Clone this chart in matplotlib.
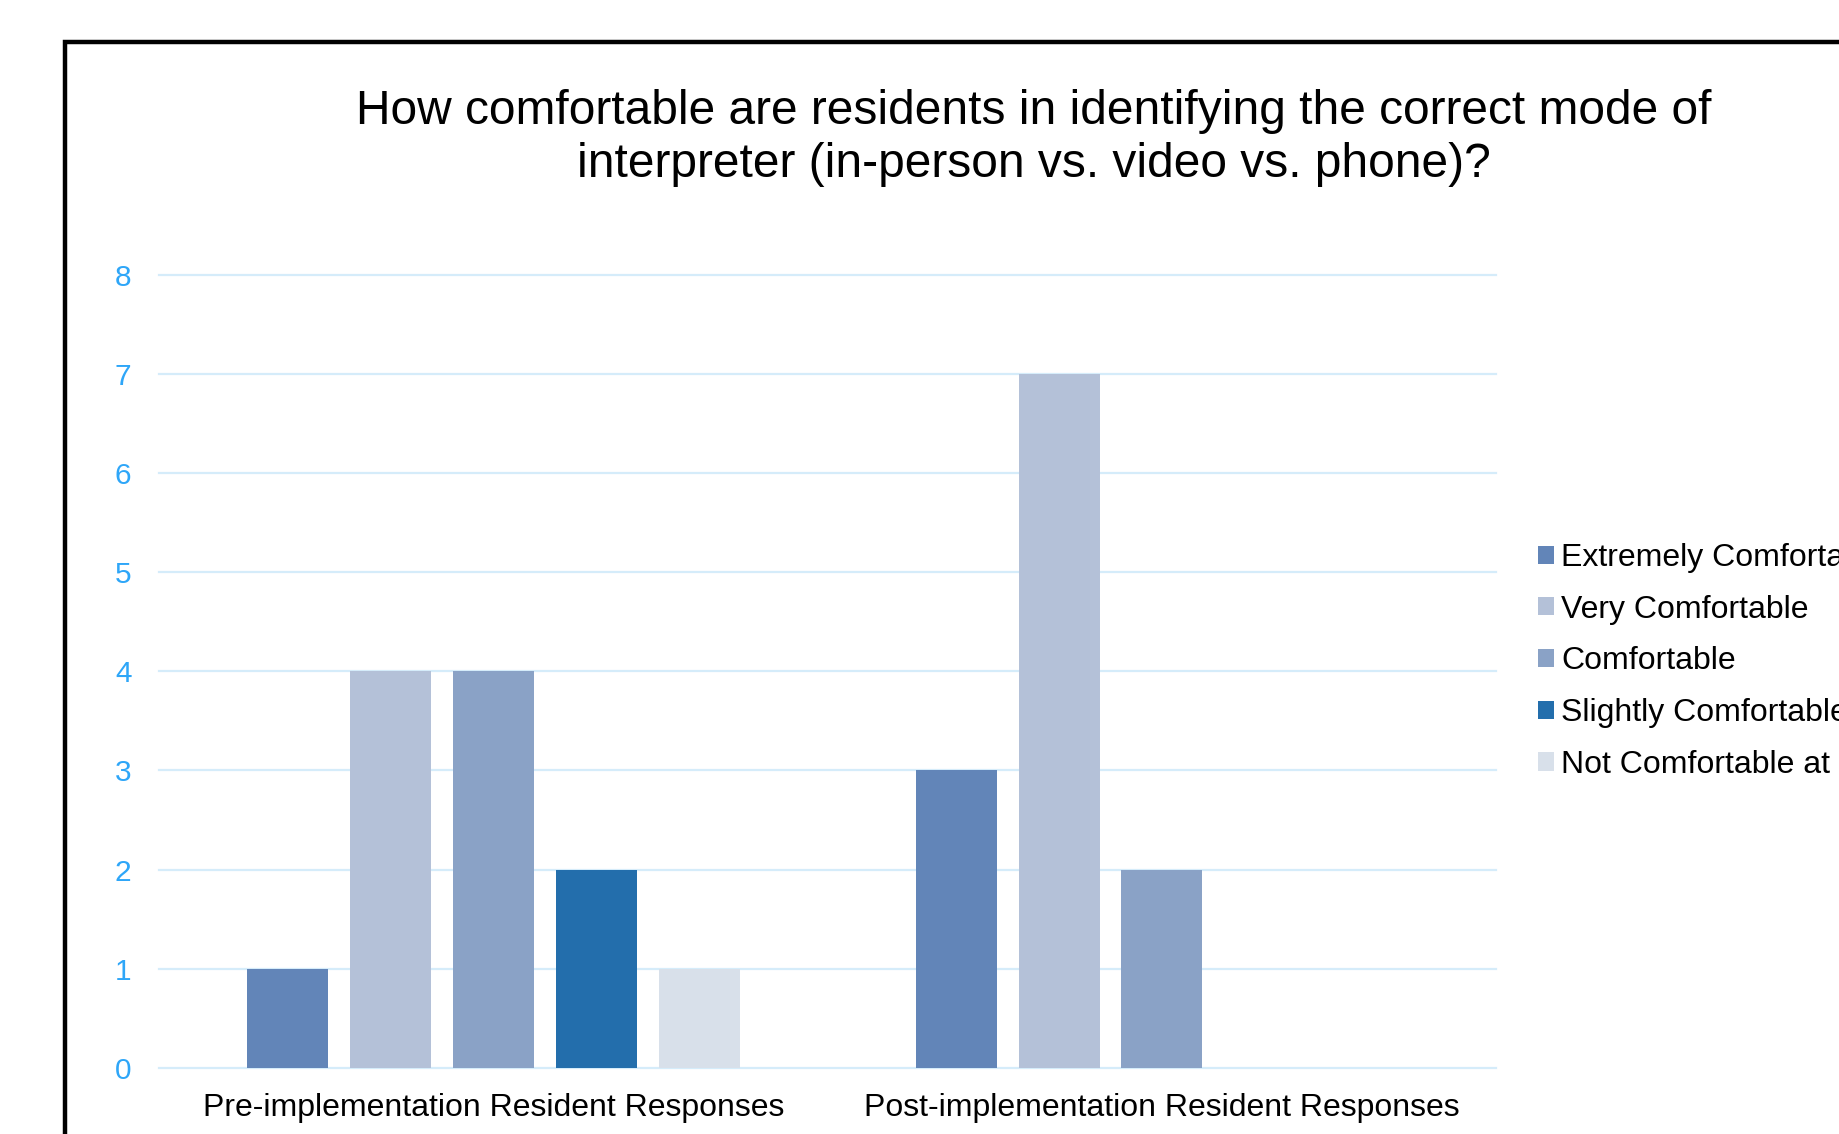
import numpy as np
import matplotlib.pyplot as plt
from matplotlib.patches import Rectangle

plt.rcParams['font.family'] = ['Liberation Sans', 'DejaVu Sans']

groups = ['Pre-implementation Resident Responses', 'Post-implementation Resident Responses']
levels = ['Extremely Comfortable', 'Very Comfortable', 'Comfortable',
          'Slightly Comfortable', 'Not Comfortable at all']
counts = {
    'Extremely Comfortable': [1, 3],
    'Very Comfortable': [4, 7],
    'Comfortable': [4, 2],
    'Slightly Comfortable': [2, 0],
    'Not Comfortable at all': [1, 0],
}
colors = ['#6285B8', '#B4C1D8', '#8AA2C6', '#236EAC', '#D8E0EA']
y_ticks = [0, 1, 2, 3, 4, 5, 6, 7, 8]

W, H = 1839, 1134
fig = plt.figure(figsize=(W / 100, H / 100), dpi=100)

# thick frame around the chart area, running off the right/bottom edges
fig.patches.append(Rectangle((65 / W, -0.1), 2, 1.1 - 42 / H, transform=fig.transFigure,
                             fill=False, edgecolor='black', linewidth=3.2))

ax = fig.add_axes([159.3 / W, 66 / H, (1496 - 159.3) / W, (1068 - 274.5) / H])

x = np.arange(len(groups))
step = 0.1538
bw = 0.1212
for i, lev in enumerate(levels):
    ax.bar(x + (i - 2) * step, counts[lev], width=bw, color=colors[i], label=lev, zorder=3)

ax.set_xlim(-0.5, 1.5)
ax.set_ylim(0, 8)
ax.set_yticks(y_ticks)
ax.set_xticks(x)
ax.set_xticklabels(groups)
ax.yaxis.grid(True, color='#D5ECFA', linewidth=1.6, zorder=0)
for gl in ax.get_ygridlines():
    gl.set_clip_on(False)
ax.set_axisbelow(True)
for s in ax.spines.values():
    s.set_visible(False)
ax.tick_params(axis='y', length=0, pad=20, labelsize=21.5, labelcolor='#2EA6F8')
ax.tick_params(axis='x', length=0, pad=18, labelsize=23, labelcolor='black')

fig.text(1034 / W, 1 - 138 / H,
         'How comfortable are residents in identifying the correct mode of\n'
         'interpreter (in-person vs. video vs. phone)?',
         ha='center', va='center', fontsize=34.5, linespacing=1.23)

fig.legend(loc='upper left', bbox_to_anchor=(1538 / W, 1 - 543 / H),
           frameon=False, fontsize=23, handlelength=0.5, handleheight=0.5,
           handletextpad=0.22, labelspacing=0.68, borderpad=0, borderaxespad=0)

fig.savefig('out.png', dpi=100)
